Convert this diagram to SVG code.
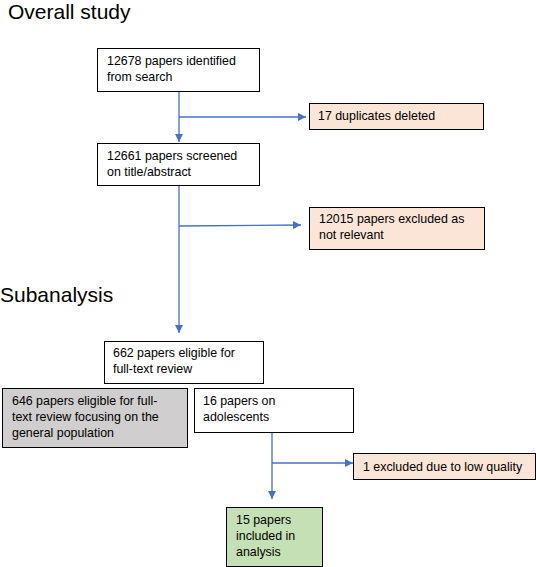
<svg xmlns="http://www.w3.org/2000/svg" width="536" height="567" viewBox="0 0 536 567">
<style>
.t{font-family:"Liberation Sans",Arial,sans-serif;font-size:12.4px;fill:#000}
.h{font-family:"Liberation Sans",Arial,sans-serif;font-size:21px;fill:#000}
.b{stroke:#000;stroke-width:1}
.w{fill:#fff}
.p{fill:#FBE5D6}
.g{fill:#D0CECE}
.gr{fill:#C5E0B4}
.c{stroke:#4472C4;stroke-width:1.3;fill:none}
</style>
<defs>
<marker id="ah" viewBox="0 0 10 10" refX="10" refY="5" markerWidth="8" markerHeight="8" markerUnits="userSpaceOnUse" orient="auto">
<path d="M0,0 L10,5 L0,10 z" fill="#4472C4"/>
</marker>
</defs>
<rect width="536" height="567" fill="#fff"/>
<text class="h" x="8" y="19">Overall study</text>
<text class="h" x="0" y="302">Subanalysis</text>
<g id="connectors">
<line class="c" x1="179" y1="91" x2="179" y2="142" marker-end="url(#ah)"/>
<line class="c" x1="179" y1="117" x2="306" y2="117" marker-end="url(#ah)"/>
<line class="c" x1="179" y1="185" x2="179" y2="333" marker-end="url(#ah)"/>
<line class="c" x1="179" y1="226" x2="301" y2="225" marker-end="url(#ah)"/>
<line class="c" x1="272" y1="432" x2="272" y2="499" marker-end="url(#ah)"/>
<line class="c" x1="272" y1="463" x2="353" y2="463" marker-end="url(#ah)"/>
</g>
<g id="n1"><rect class="b w" x="97.5" y="48.5" width="162" height="43"/>
<text class="t" x="107" y="65">12678 papers identified</text><text class="t" x="107" y="81">from search</text></g>
<g id="n2"><rect class="b p" x="309.5" y="103.5" width="174" height="26"/>
<text class="t" x="318" y="120">17 duplicates deleted</text></g>
<g id="n3"><rect class="b w" x="97.5" y="143.5" width="162" height="42"/>
<text class="t" x="107" y="160">12661 papers screened</text><text class="t" x="107" y="176">on title/abstract</text></g>
<g id="n4"><rect class="b p" x="309.5" y="207.5" width="175" height="42"/>
<text class="t" x="319" y="223">12015 papers excluded as</text><text class="t" x="319" y="239">not relevant</text></g>
<g id="n5"><rect class="b w" x="104.5" y="341.5" width="159" height="42"/>
<text class="t" x="113" y="357">662 papers eligible for</text><text class="t" x="113" y="373">full-text review</text></g>
<g id="n6"><rect class="b g" x="2.5" y="388.5" width="185" height="59"/>
<text class="t" x="12" y="405">646 papers eligible for full-</text><text class="t" x="12" y="421">text review focusing on the</text><text class="t" x="12" y="437">general population</text></g>
<g id="n7"><rect class="b w" x="194.5" y="388.5" width="159" height="44"/>
<text class="t" x="203" y="405">16 papers on</text><text class="t" x="203" y="421">adolescents</text></g>
<g id="n8"><rect class="b p" x="353.5" y="453.5" width="182" height="26"/>
<text class="t" x="363" y="471">1 excluded due to low quality</text></g>
<g id="n9"><rect class="b gr" x="226.5" y="507.5" width="96" height="59"/>
<text class="t" x="236" y="524">15 papers</text><text class="t" x="236" y="540">included in</text><text class="t" x="236" y="556">analysis</text></g>
</svg>
